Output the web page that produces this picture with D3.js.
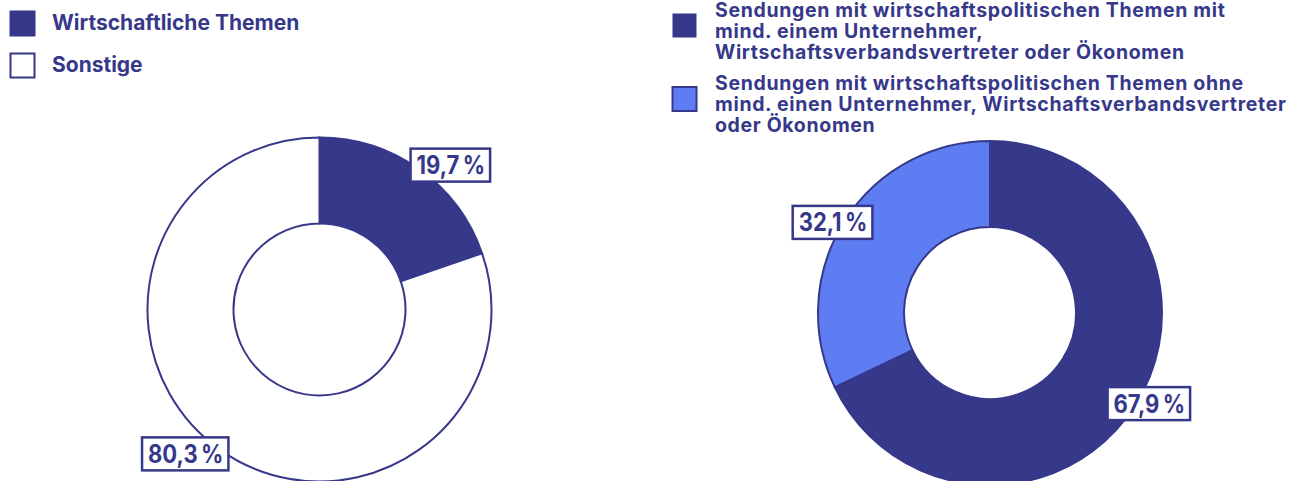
<!DOCTYPE html>
<html>
<head>
<meta charset="utf-8">
<script src="https://cdn.jsdelivr.net/npm/d3@7"></script>
<style>
  body { margin: 0; background: #fff; }
  svg { display: block; font-family: Inter, "Noto Sans", sans-serif; font-weight: 700; }
</style>
</head>
<body>
<svg id="chart" width="1314" height="481"></svg>
<script>
// data
var leftLabels = ["Wirtschaftliche Themen", "Sonstige"];
var leftValues = [19.7, 80.3];

var rightLabels = [
  ["Sendungen mit wirtschaftspolitischen Themen mit", "mind. einem Unternehmer,", "Wirtschaftsverbandsvertreter oder Ökonomen"],
  ["Sendungen mit wirtschaftspolitischen Themen ohne", "mind. einen Unternehmer, Wirtschaftsverbandsvertreter", "oder Ökonomen"]
];
var rightValues = [67.9, 32.1];

var dark = "#36388a",
    light = "#5e7df3";

var svg = d3.select("#chart");

var pie = d3.pie().sort(null).value(function(d) { return d; });
var arc = d3.arc().innerRadius(86).outerRadius(172);

function fmt(v) {
  return String(v).replace(".", ",") + "\u202F%";
}

// draws one donut with boxed labels
function donut(values, colors, cx, cy, labelR) {
  var g = svg.append("g").attr("transform", "translate(" + cx + "," + cy + ")");

  var slices = pie(values);

  g.selectAll(".slice")
    .data(slices)
    .enter().append("path")
    .attr("class", "slice")
    .attr("d", arc)
    .attr("fill", function(d, i) { return colors[i]; })
    .attr("stroke", dark)
    .attr("stroke-width", 2);

  slices.forEach(function(d) {
    var a = (d.startAngle + d.endAngle) / 2;
    var px = labelR * Math.sin(a),
        py = -labelR * Math.cos(a);
    var lab = g.append("g");
    var sx = 0.88;  // squeeze digits a bit, the original face is narrower
    var txt = lab.append("text")
      .attr("font-size", 25)
      .attr("letter-spacing", -1)
      .attr("fill", dark)
      .text(fmt(d.data));
    var bb = txt.node().getBBox();
    var w = bb.width * sx + 11, h = 33;
    // corner closest to the centre sits on the anchor point
    var bx = px >= 0 ? px : px - w;
    var by = py >= 0 ? py : py - h;
    lab.insert("rect", "text")
      .attr("x", bx).attr("y", by)
      .attr("width", w).attr("height", h)
      .attr("fill", "#fff")
      .attr("stroke", dark)
      .attr("stroke-width", 2.5);
    txt.attr("transform", "translate(" + (bx + 6) + "," + (by + 25.5) + ") scale(" + sx + ",1)");
  });
}

donut(leftValues, [dark, "#fff"], 319.5, 309.5, 157);
donut(rightValues, [dark, light], 990, 313, 139);

// left legend
var leftLeg = svg.append("g");
leftLabels.forEach(function(t, i) {
  var y = 10.5 + i * 42;
  leftLeg.append("rect")
    .attr("x", 10.5).attr("y", y + 1)
    .attr("width", 24).attr("height", 24)
    .attr("fill", i == 0 ? dark : "#fff")
    .attr("stroke", dark)
    .attr("stroke-width", 2);
  leftLeg.append("text")
    .attr("x", 52).attr("y", y + 19.5)
    .attr("font-size", 21)
    .attr("letter-spacing", 0)
    .attr("fill", dark)
    .text(t);
});

// right legend
var rightLeg = svg.append("g");
rightLabels.forEach(function(lines, i) {
  var y = 12.5 + i * 73.5;
  rightLeg.append("rect")
    .attr("x", 672.5).attr("y", y + 1)
    .attr("width", 24).attr("height", 24)
    .attr("fill", i == 0 ? dark : light)
    .attr("stroke", dark)
    .attr("stroke-width", i == 0 ? 0 : 2);
  var txt = rightLeg.append("text")
    .attr("font-size", 19.5)
    .attr("letter-spacing", 0.65)
    .attr("fill", dark);
  lines.forEach(function(l, j) {
    txt.append("tspan")
      .attr("x", 715)
      .attr("y", y + 4 + j * 21)
      .text(l);
  });
});
</script>
</body>
</html>
